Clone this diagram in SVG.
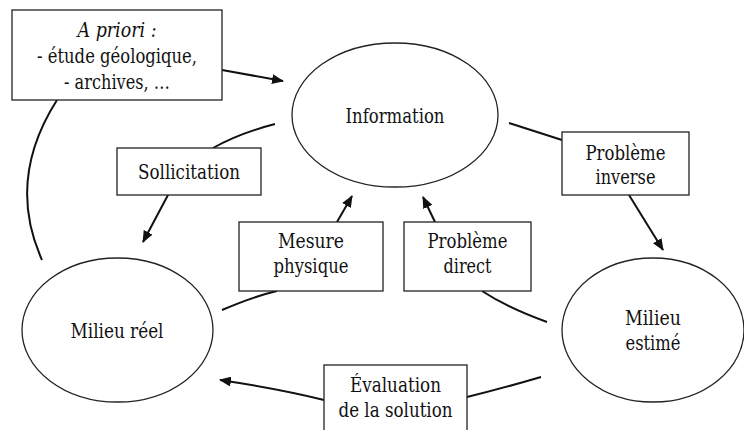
<svg xmlns="http://www.w3.org/2000/svg" width="744" height="430" viewBox="0 0 744 430">
<style>
.box{fill:#fff;stroke:#222;stroke-width:1.3}
.ell{fill:#fff;stroke:#222;stroke-width:1.3}
.t{font-family:'DejaVu Serif','Liberation Serif',serif;font-size:20px;fill:#111;text-anchor:middle}
.c{fill:none;stroke:#111;stroke-width:2}
</style>
<defs>
<marker id="ah" viewBox="0 0 12 10" refX="11" refY="5" markerWidth="12" markerHeight="10" markerUnits="userSpaceOnUse" orient="auto">
<path d="M0,0 L12,5 L0,10 Z" fill="#111"/>
</marker>
</defs>
<rect width="744" height="430" fill="#fff"/>
<g id="connectors">
<path class="c" d="M222,70 L283,81" marker-end="url(#ah)"/>
<path class="c" d="M57,100 Q6,180 42,260"/>
<path class="c" d="M509,123 L562,140"/>
<path class="c" d="M629,195 L663,250" marker-end="url(#ah)"/>
<path class="c" d="M547,322 Q508,308 482,291"/>
<path class="c" d="M435,222 L423,197" marker-end="url(#ah)"/>
<path class="c" d="M337,222 L352,196" marker-end="url(#ah)"/>
<path class="c" d="M222,310 Q255,296 277,291"/>
<path class="c" d="M275,124 Q240,133 213,148"/>
<path class="c" d="M168,195 L143,242" marker-end="url(#ah)"/>
<path class="c" d="M324,400 Q280,389 220,380" marker-end="url(#ah)"/>
<path class="c" d="M467,397 Q500,389 541,377"/>
</g>
<g id="apriori">
<rect class="box" x="12" y="10" width="210" height="90"/>
<text class="t" x="117" y="37" font-style="italic" textLength="79" lengthAdjust="spacingAndGlyphs">A priori :</text>
<text class="t" x="117" y="63" textLength="160" lengthAdjust="spacingAndGlyphs">- étude géologique,</text>
<text class="t" x="117" y="89" textLength="106" lengthAdjust="spacingAndGlyphs">- archives, …</text>
</g>
<g id="information">
<ellipse class="ell" cx="395" cy="115" rx="103" ry="72"/>
<text class="t" x="395" y="123" textLength="99" lengthAdjust="spacingAndGlyphs">Information</text>
</g>
<g id="probleme-inverse">
<rect class="box" x="562" y="132" width="127" height="63"/>
<text class="t" x="625.5" y="160" textLength="80" lengthAdjust="spacingAndGlyphs">Problème</text>
<text class="t" x="625.5" y="184" textLength="60" lengthAdjust="spacingAndGlyphs">inverse</text>
</g>
<g id="sollicitation">
<rect class="box" x="117" y="148" width="144" height="47"/>
<text class="t" x="189" y="179" textLength="102" lengthAdjust="spacingAndGlyphs">Sollicitation</text>
</g>
<g id="mesure-physique">
<rect class="box" x="239" y="222" width="144" height="69"/>
<text class="t" x="311" y="248" textLength="66" lengthAdjust="spacingAndGlyphs">Mesure</text>
<text class="t" x="311" y="273" textLength="75" lengthAdjust="spacingAndGlyphs">physique</text>
</g>
<g id="probleme-direct">
<rect class="box" x="404" y="222" width="127" height="69"/>
<text class="t" x="467.5" y="248" textLength="80" lengthAdjust="spacingAndGlyphs">Problème</text>
<text class="t" x="467.5" y="273" textLength="48" lengthAdjust="spacingAndGlyphs">direct</text>
</g>
<g id="milieu-reel">
<ellipse class="ell" cx="117.5" cy="330" rx="95.5" ry="72"/>
<text class="t" x="117" y="338" textLength="93" lengthAdjust="spacingAndGlyphs">Milieu réel</text>
</g>
<g id="milieu-estime">
<ellipse class="ell" cx="653" cy="330" rx="91" ry="72"/>
<text class="t" x="653" y="325" textLength="56" lengthAdjust="spacingAndGlyphs">Milieu</text>
<text class="t" x="653" y="350" textLength="55" lengthAdjust="spacingAndGlyphs">estimé</text>
</g>
<g id="evaluation">
<rect class="box" x="324" y="365" width="143" height="70"/>
<text class="t" x="395.5" y="392" textLength="91" lengthAdjust="spacingAndGlyphs">Évaluation</text>
<text class="t" x="395.5" y="417" textLength="114" lengthAdjust="spacingAndGlyphs">de la solution</text>
</g>
</svg>
